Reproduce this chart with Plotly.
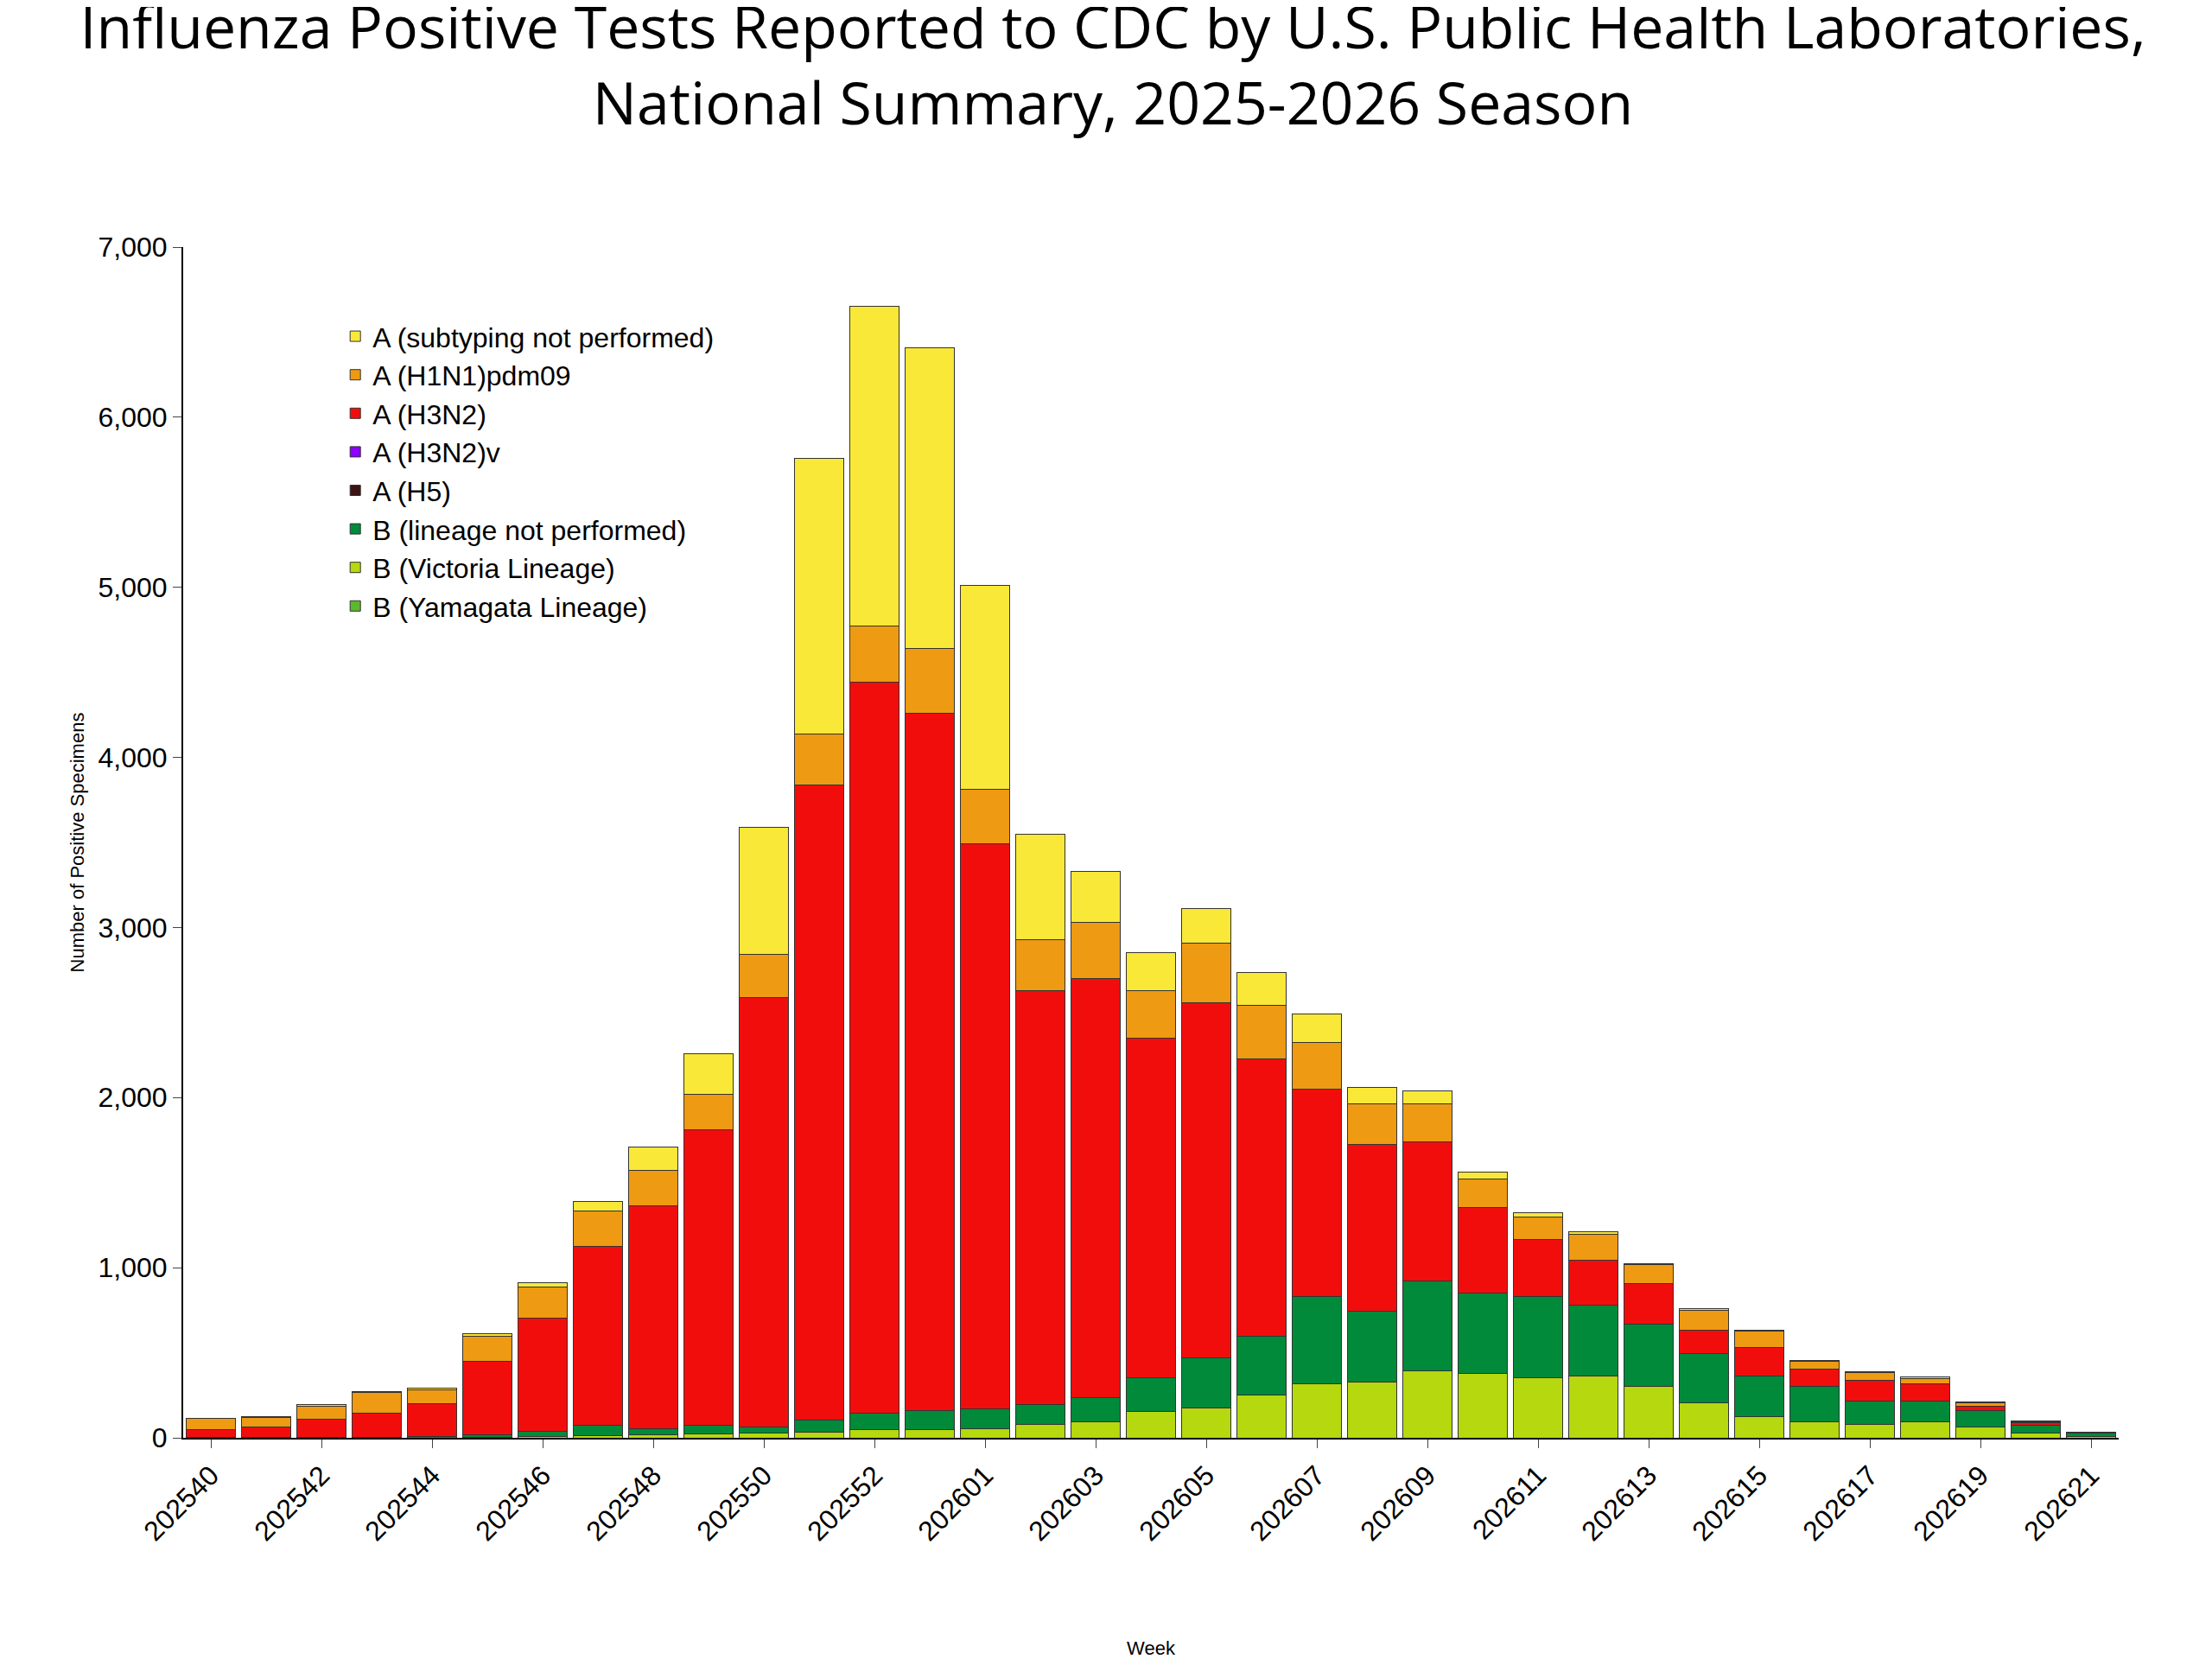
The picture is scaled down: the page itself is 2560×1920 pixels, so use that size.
import plotly.graph_objects as go

weeks = [str(w) for w in list(range(202540, 202554)) + list(range(202601, 202622))]
victoria = [0,0,0,0,0,5,10,15,20,25,30,35,50,50,55,80,95,155,175,250,315,330,395,380,355,365,300,205,125,95,80,95,65,30,10]
b_not_performed = [5,5,5,5,10,15,30,60,35,50,35,70,95,110,115,115,140,200,295,345,515,415,525,470,475,415,370,290,240,205,135,120,95,45,20]
h3n2 = [45,60,105,140,190,430,665,1050,1310,1735,2525,3735,4295,4100,3320,2435,2465,1995,2090,1635,1220,980,820,505,335,265,235,135,165,105,125,105,25,15,5]
h1n1 = [65,55,75,120,80,145,180,210,205,210,250,300,330,380,320,300,330,280,350,310,275,240,225,165,135,150,115,120,95,45,45,30,20,5,0]
not_subtyped = [0,5,10,5,10,15,25,55,140,240,750,1620,1880,1770,1200,620,300,220,200,195,165,95,75,40,25,15,5,10,10,5,5,10,5,5,0]
zeros = [0]*len(weeks)

series = [
    ("B (Yamagata Lineage)", zeros, "#5CB82D"),
    ("B (Victoria Lineage)", victoria, "#B5D80F"),
    ("B (lineage not performed)", b_not_performed, "#008A3A"),
    ("A (H5)", zeros, "#3C1414"),
    ("A (H3N2)v", zeros, "#8B00FF"),
    ("A (H3N2)", h3n2, "#F20D0D"),
    ("A (H1N1)pdm09", h1n1, "#EE9A12"),
    ("A (subtyping not performed)", not_subtyped, "#F9E838"),
]

fig = go.Figure()
for i, (name, vals, col) in enumerate(series):
    fig.add_trace(go.Bar(x=weeks, y=vals, name=name, legendgroup=str(i),
                         marker=dict(color=col, line=dict(color="#333333", width=1))))

fig.update_layout(
    width=2560, height=1920, barmode="stack", bargap=0.1,
    plot_bgcolor="white", paper_bgcolor="white",
    font=dict(family="Arial, Liberation Sans", color="black"),
    title=dict(text="Influenza Positive Tests Reported to CDC by U.S. Public Health Laboratories,<br>National Summary, 2025-2026 Season",
               x=0.5, xanchor="center", y=0.975, yanchor="top",
               font=dict(family="Open Sans, Noto Sans", size=68)),
    margin=dict(l=204, r=116, t=278, b=264),
    legend=dict(x=0.08, y=0.945, xanchor="left", yanchor="top", traceorder="reversed",
                tracegroupgap=44, font=dict(size=32), bgcolor="rgba(0,0,0,0)"),
    showlegend=True,
)
fig.update_xaxes(type="category", tickangle=-45, tickvals=weeks[::2], tickfont=dict(size=32),
                 showline=True, linecolor="black", linewidth=2, ticks="outside", ticklen=10,
                 title=dict(text="Week", font=dict(size=22), standoff=110))
fig.update_yaxes(range=[0, 7000], dtick=1000, tickformat=",", tickfont=dict(size=32),
                 showline=True, linecolor="black", linewidth=2, ticks="outside", ticklen=10,
                 showgrid=False, zeroline=False,
                 title=dict(text="Number of Positive Specimens", font=dict(size=22), standoff=10))
fig.write_html("out.html")
